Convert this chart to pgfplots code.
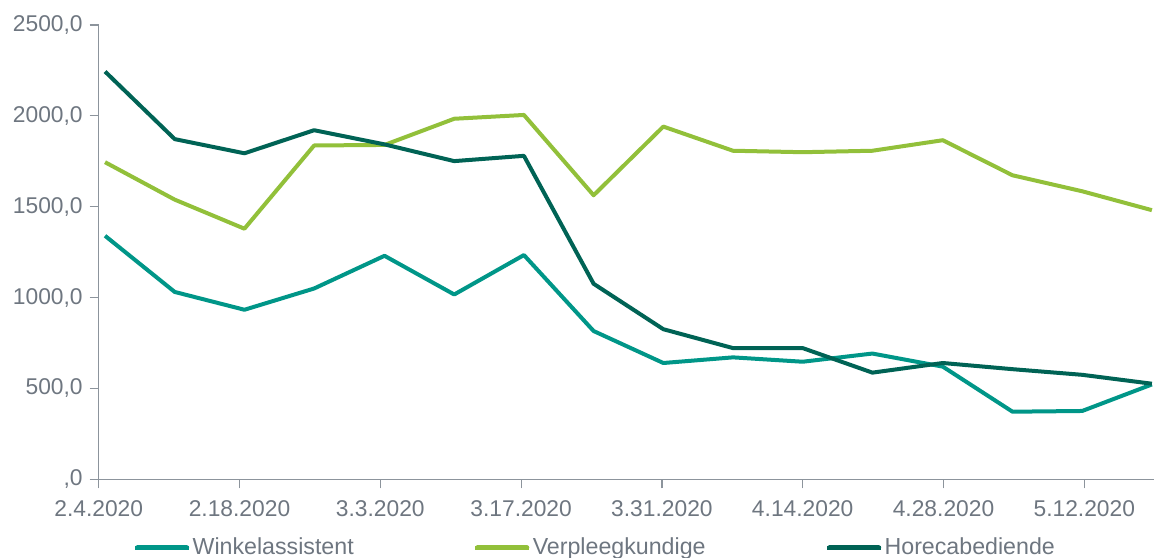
\documentclass[border=0pt]{standalone}
\usepackage{fontspec}
\setmainfont{Liberation Sans}
\usepackage{pgfplots}
\pgfplotsset{compat=1.18}
\definecolor{cW}{HTML}{009688}
\definecolor{cV}{HTML}{92C03A}
\definecolor{cH}{HTML}{006355}
\definecolor{axisgray}{HTML}{8C949C}
\definecolor{textgray}{HTML}{6E7680}
\begin{document}
\begin{tikzpicture}
\begin{axis}[
  name=ax, scale only axis, width=528pt, height=227.15pt,
  xmin=0, xmax=15, ymin=0, ymax=2500,
  axis lines=left, axis line style={axisgray, line width=0.6pt, -},
  tick style={axisgray, line width=0.6pt}, tick align=outside, major tick length=4.5pt,
  xtick={0,2,...,14},
  xticklabels={2.4.2020,2.18.2020,3.3.2020,3.17.2020,3.31.2020,4.14.2020,4.28.2020,5.12.2020},
  ytick={0,500,...,2500},
  yticklabels={{,0},{500,0},{1000,0},{1500,0},{2000,0},{2500,0}},
  ticklabel style={font=\fontsize{11.4}{13}\selectfont, text=textgray},
  xticklabel style={yshift=-2.5pt},
  legend columns=3,
  legend style={at={(axis description cs:0.0322,-0.1506)}, anchor=west, draw=none, fill=none,
    inner sep=0pt, font=\fontsize{11.6}{13}\selectfont, text=textgray,
    nodes={inner sep=0.75pt},
    /tikz/every even column/.append style={column sep=59pt}},
  legend image code/.code={\path (0pt,0pt) -- (27pt,0pt);\draw[#1, line width=2.5pt, line cap=round] (1.25pt,0pt) -- (25.75pt,0pt);},
  every axis plot/.append style={line width=2pt, line join=round, no markers},
]
\addplot[cW] coordinates {(0.09,1340)(1.08,1031)(2.07,933)(3.06,1050)(4.06,1230)(5.05,1017)(6.04,1234)(7.03,816)(8.02,640)(9.01,671)(10.0,647)(10.99,692)(11.99,620)(12.98,372)(13.97,376)(14.96,522)};
\addlegendentry{Winkelassistent}
\addplot[cV] coordinates {(0.09,1745)(1.08,1539)(2.07,1379)(3.06,1837)(4.06,1840)(5.05,1984)(6.04,2005)(7.03,1563)(8.02,1941)(9.01,1808)(10.0,1800)(10.99,1808)(11.99,1866)(12.98,1673)(13.97,1585)(14.96,1481)};
\addlegendentry{Verpleegkundige}
\addplot[cH] coordinates {(0.09,2244)(1.08,1872)(2.07,1794)(3.06,1921)(4.06,1843)(5.05,1751)(6.04,1780)(7.03,1076)(8.02,826)(9.01,722)(10.0,722)(10.99,587)(11.99,640)(12.98,606)(13.97,575)(14.96,526)};
\addlegendentry{Horecabediende}
\end{axis}
\pgfresetboundingbox
\path ([xshift=-49.35pt,yshift=-38.85pt]ax.south west) rectangle ([xshift=-0.35pt,yshift=12.5pt]ax.north east);
\end{tikzpicture}
\end{document}
